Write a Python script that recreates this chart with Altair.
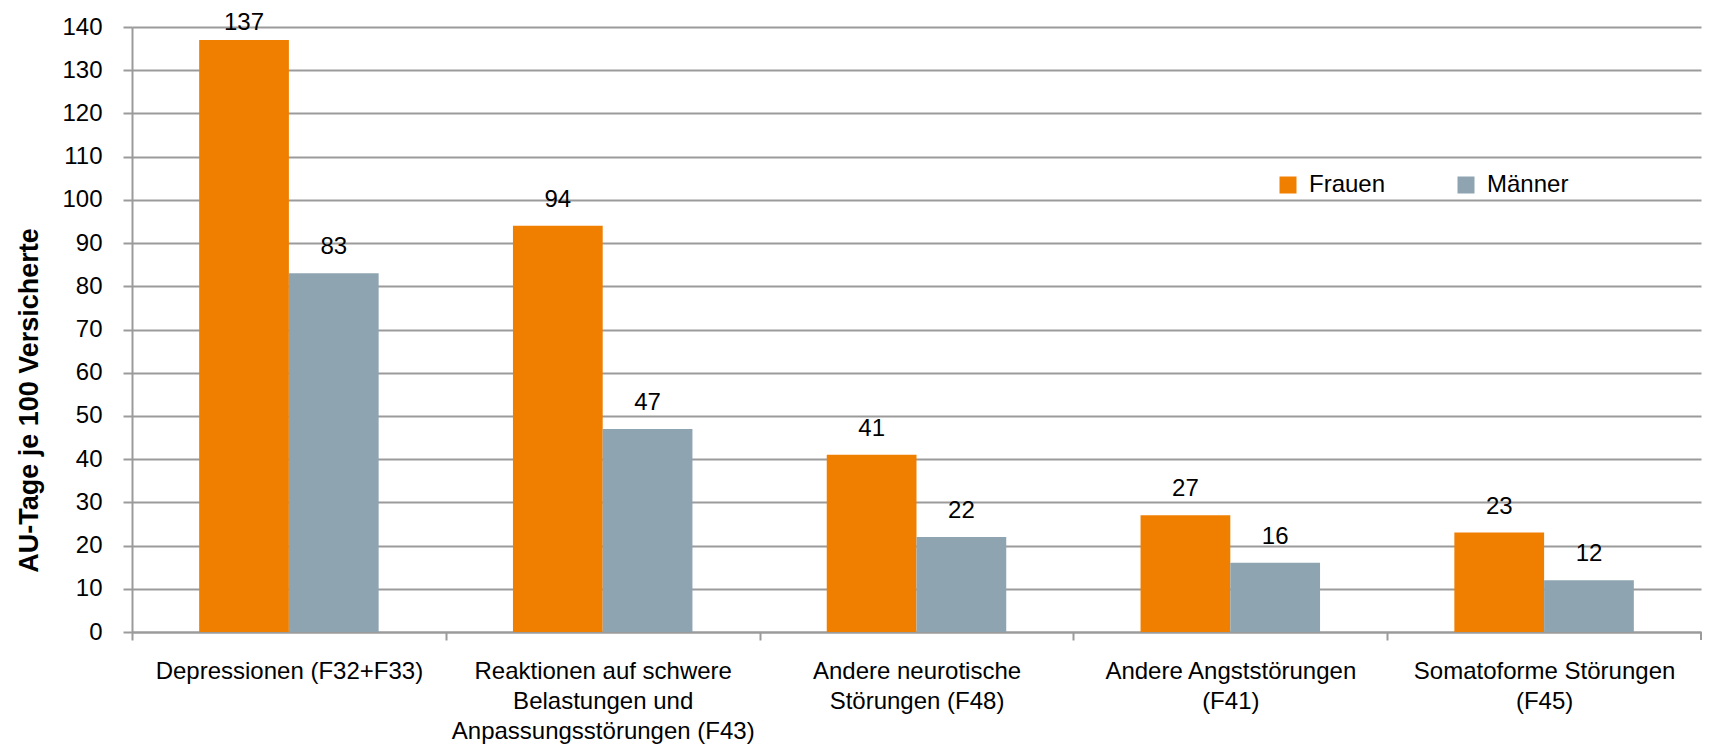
import altair as alt
import pandas as pd

categories = [
    "Depressionen (F32+F33)",
    "Reaktionen auf schwere|Belastungen und|Anpassungsstörungen (F43)",
    "Andere neurotische|Störungen (F48)",
    "Andere Angststörungen|(F41)",
    "Somatoforme Störungen|(F45)",
]
frauen = [137, 94, 41, 27, 23]
maenner = [83, 47, 22, 16, 12]
series = ["Frauen", "Männer"]
colors = ["#F07F00", "#8FA4B1"]
y_ticks = list(range(0, 141, 10))

rows = []
for c, f, m in zip(categories, frauen, maenner):
    rows.append({"Kategorie": c, "Geschlecht": series[0], "Wert": f})
    rows.append({"Kategorie": c, "Geschlecht": series[1], "Wert": m})
df = pd.DataFrame(rows)

FONT = "Liberation Sans Narrow, Arial Narrow, Liberation Sans, Arial, sans-serif"
GRID = "#9b9b9b"
W, H = 1569, 605
HALF_STEP = W / len(categories) / 2

x_enc = alt.X(
    "Kategorie:N",
    sort=categories,
    scale=alt.Scale(paddingInner=0.428, paddingOuter=0.214),
    axis=alt.Axis(
        title=None,
        labelExpr="split(datum.value, '|')",
        labelAngle=0,
        labelFontSize=24,
        labelLineHeight=30,
        labelPadding=19,
        labelLimit=500,
        labelBaseline="top",
        labelColor="#000000",
        tickOffset=-HALF_STEP,
        labelOffset=HALF_STEP,
        tickSize=8,
        tickColor=GRID,
        tickWidth=2,
        domainColor=GRID,
        domainWidth=2,
        grid=False,
    ),
)
xoff = alt.XOffset("Geschlecht:N", sort=series,
                   scale=alt.Scale(paddingInner=0, paddingOuter=0))

base = alt.Chart(df).encode(x=x_enc, xOffset=xoff)

bars = base.mark_bar().encode(
    y=alt.Y(
        "Wert:Q",
        scale=alt.Scale(domain=[0, 140], nice=False),
        axis=alt.Axis(
            values=y_ticks,
            title="AU-Tage je 100 Versicherte",
            titleFontSize=27,
            titleFontWeight="bold",
            titleColor="#000000",
            titleAngle=-90,
            titleX=-103,
            titleY=373,
            titleAlign="center",
            titleBaseline="middle",
            labelFontSize=24,
            labelColor="#000000",
            labelPadding=21,
            tickSize=9,
            tickColor=GRID,
            tickWidth=2,
            domainColor=GRID,
            domainWidth=2,
            grid=True,
            gridColor=GRID,
            gridWidth=2,
        ),
    ),
    color=alt.Color(
        "Geschlecht:N",
        sort=series,
        scale=alt.Scale(domain=series, range=colors),
        legend=alt.Legend(
            title=None,
            orient="none",
            legendX=1144,
            legendY=146,
            direction="horizontal",
            symbolType="square",
            symbolSize=289,
            symbolStrokeWidth=0,
            labelFontSize=24,
            labelColor="#000000",
            labelOffset=9,
            columnPadding=68,
        ),
    ),
)

labels = base.transform_calculate(
    ly="min(datum.Wert, 135)"
).mark_text(baseline="alphabetic", dy=-19, fontSize=24, color="#000000").encode(
    y=alt.Y("ly:Q"),
    text=alt.Text("Wert:Q"),
)

# closing tick at the right end of the category axis
end_tick = alt.Chart(pd.DataFrame({"t": [0]})).mark_rule(
    color=GRID, strokeWidth=2
).encode(x=alt.value(W), y=alt.value(H), y2=alt.value(H + 8))

chart = alt.layer(bars, labels, end_tick).properties(
    width=W,
    height=H,
    autosize=alt.AutoSizeParams(type="none"),
    padding={"left": 124, "top": 19, "right": 1, "bottom": 116},
).configure(font=FONT).configure_view(stroke=None)

chart.save("out.html", embed_options={"renderer": "svg", "actions": False})
